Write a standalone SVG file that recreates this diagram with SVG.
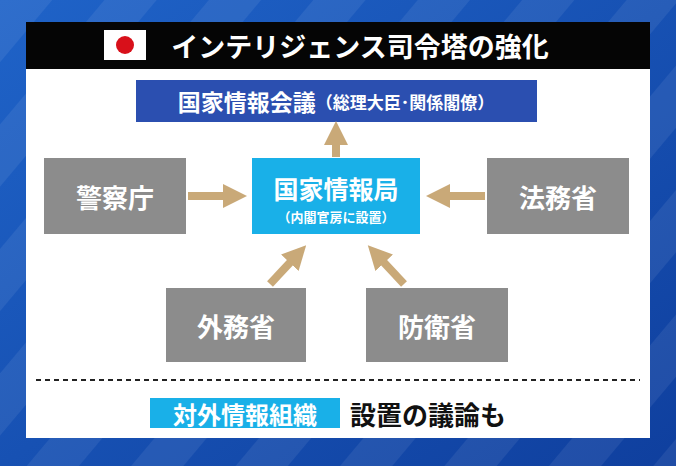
<svg xmlns="http://www.w3.org/2000/svg" width="676" height="466" viewBox="0 0 676 466">
<defs>
<linearGradient id="bg" x1="0" y1="0" x2="1" y2="1"><stop offset="0" stop-color="#1f63c8"/><stop offset="1" stop-color="#0f3f9e"/></linearGradient>
<pattern id="st" width="80" height="80" patternUnits="userSpaceOnUse" patternTransform="rotate(40)"><rect width="40" height="80" fill="#ffffff" opacity="0.07"/></pattern>
<marker id="ah" viewBox="0 0 10 10" refX="5" refY="5" markerWidth="3" markerHeight="3" orient="auto"><path d="M0,0 L10,5 L0,10 Z" fill="#c9a978"/></marker>
</defs>
<style>
.t{font-family:"Noto Sans CJK JP",sans-serif;font-weight:bold;text-anchor:middle;dominant-baseline:central}
.g{fill:#8c8c8c}
.w{fill:#fff}
.c{stroke:#c9a978;stroke-width:8;fill:none;marker-end:url(#ah)}
</style>
<rect width="676" height="466" fill="url(#bg)"/>
<rect width="676" height="466" fill="url(#st)"/>
<rect x="26" y="22" width="624" height="416" fill="#fff"/>
<rect x="26" y="22" width="624" height="47" fill="#050505"/>
<rect x="104" y="30" width="42" height="30" fill="#fff"/>
<circle cx="125" cy="45" r="9" fill="#d8101a"/>
<text class="t w" x="360" y="45" font-size="27">インテリジェンス司令塔の強化</text>
<g id="council"><rect x="136" y="80" width="401" height="42" fill="#2b4fb0"/>
<text class="t w" x="336" y="101" font-size="23">国家情報会議<tspan font-size="17">（総理大臣･関係閣僚）</tspan></text></g>
<g id="connectors">
<line class="c" x1="336" y1="157" x2="336" y2="133"/>
<line class="c" x1="188" y1="196" x2="235" y2="196"/>
<line class="c" x1="485" y1="196" x2="438" y2="196"/>
<line class="c" x1="270" y1="284" x2="298" y2="254"/>
<line class="c" x1="404" y1="284" x2="376" y2="254"/>
</g>
<g id="bureau"><rect x="252" y="158" width="168" height="76" fill="#19b0e8"/>
<text class="t w" x="336" y="188" font-size="25">国家情報局</text>
<text class="t w" x="336" y="216" font-size="13">（内閣官房に設置）</text></g>
<g id="police"><rect class="g" x="44" y="158" width="142" height="76"/><text class="t w" x="115" y="196" font-size="26">警察庁</text></g>
<g id="justice"><rect class="g" x="487" y="158" width="142" height="76"/><text class="t w" x="558" y="196" font-size="26">法務省</text></g>
<g id="mofa"><rect class="g" x="166" y="288" width="140" height="74"/><text class="t w" x="236" y="325" font-size="26">外務省</text></g>
<g id="mod"><rect class="g" x="366" y="288" width="142" height="74"/><text class="t w" x="437" y="325" font-size="26">防衛省</text></g>
<line x1="36" y1="380" x2="640" y2="380" stroke="#222" stroke-width="2" stroke-dasharray="5,4"/>
<rect x="150" y="398" width="190" height="30" fill="#19b0e8"/>
<text class="t w" x="245" y="413" font-size="24">対外情報組織</text>
<text class="t" x="350" y="413" font-size="26" fill="#111" text-anchor="start" style="text-anchor:start">設置の議論も</text>
</svg>
